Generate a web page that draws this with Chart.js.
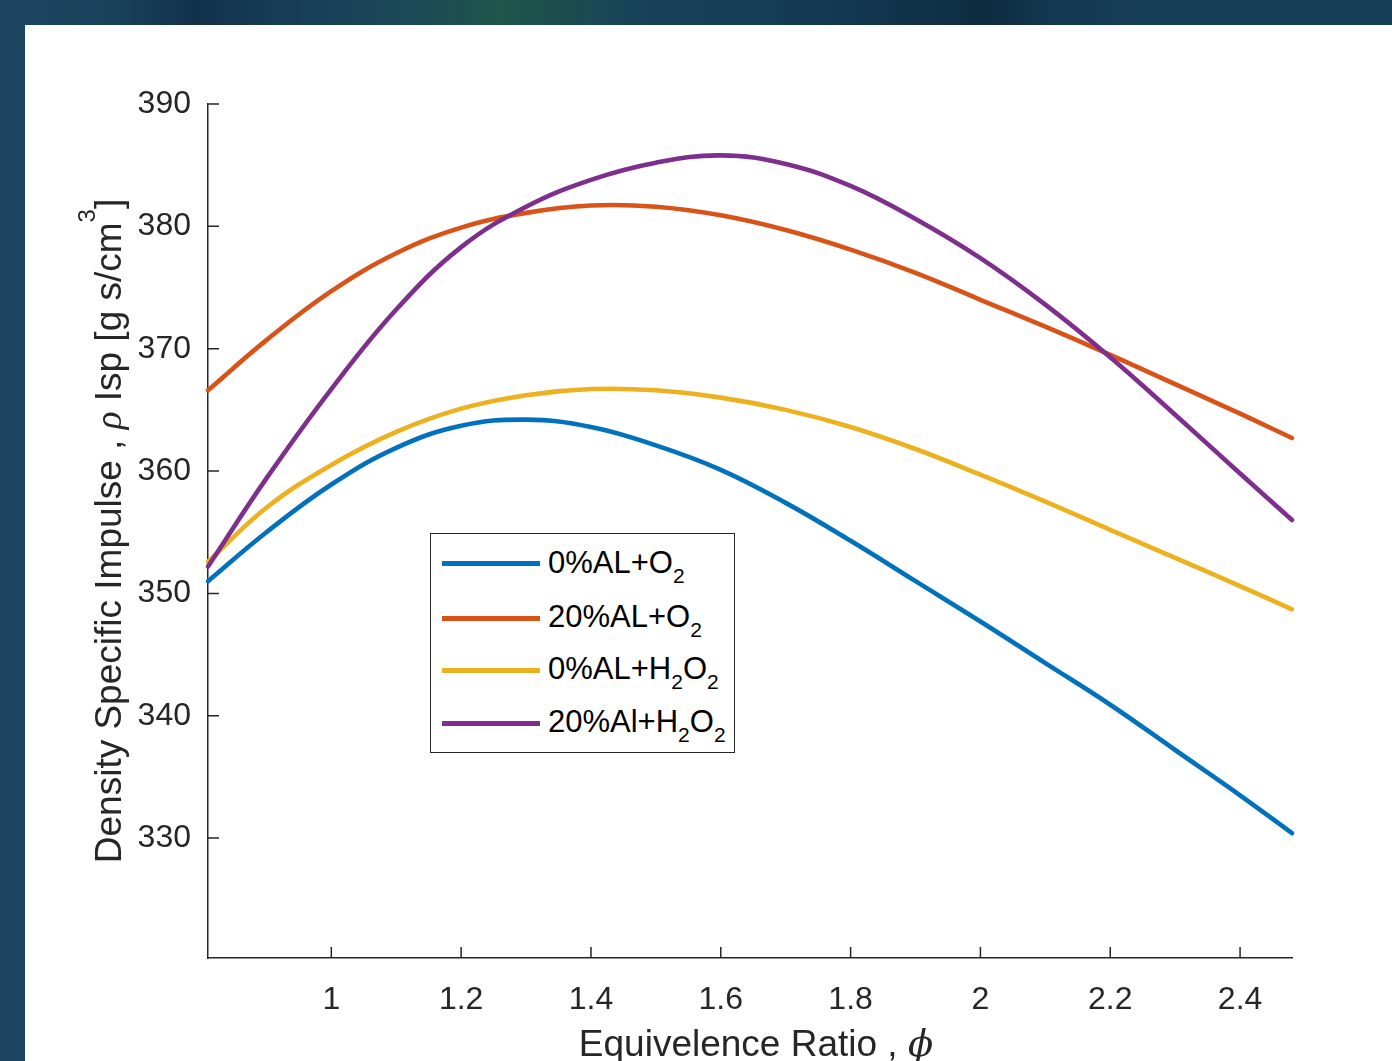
<!DOCTYPE html>
<html><head><meta charset="utf-8">
<script src="https://cdn.jsdelivr.net/npm/chart.js@4.4.0/dist/chart.umd.min.js"></script>
<style>
html,body{margin:0;padding:0;width:1392px;height:1061px;overflow:hidden;}
body{position:relative;font-family:'Liberation Sans',Arial,sans-serif;
background:linear-gradient(90deg,#1c4560 0%,#1a425b 8%,#12324a 14%,#183f58 22%,#1b4a56 30%,#1e5649 36%,#1b4e4e 40%,#174259 46%,#153d55 55%,#11334a 65%,#0d2c3f 71%,#143a52 76%,#163f57 85%,#163f57 100%);}
#panel{position:absolute;left:25px;top:25px;width:1367px;height:1036px;background:#fff;}
#wrap{position:absolute;left:0;top:0;width:1392px;height:1061px;}
#legend{position:absolute;left:430px;top:533px;width:305px;height:220px;box-sizing:border-box;border:1.3px solid #262626;background:#fff;}
.sw{position:absolute;left:11px;width:98px;height:5px;}
.lt{position:absolute;left:117px;font-size:31px;line-height:31px;white-space:nowrap;color:#000;font-family:'Liberation Sans',Arial,sans-serif;}
.lt sub{font-size:21px;vertical-align:-10px;line-height:0;}
</style>
</head><body>
<div id="panel"></div>
<div id="wrap"><canvas id="c"></canvas></div>
<div id="legend"></div>
<script>
// ---- data ----
const xValues   = [0.81, 0.9, 1.0, 1.1, 1.2, 1.3, 1.4, 1.5, 1.6, 1.7, 1.8, 1.9, 2.0, 2.1, 2.2, 2.3, 2.4, 2.48];
const al0O2     = [351.0, 355.0, 358.9, 361.9, 363.7, 364.2, 363.6, 362.1, 360.1, 357.4, 354.3, 351.0, 347.7, 344.3, 340.9, 337.2, 333.5, 330.4];
const al20O2    = [366.6, 370.7, 374.7, 377.8, 379.9, 381.1, 381.7, 381.6, 380.9, 379.7, 378.1, 376.2, 374.0, 371.8, 369.5, 367.1, 364.7, 362.7];
const al0H2O2   = [352.6, 357.0, 360.5, 363.2, 365.1, 366.2, 366.7, 366.6, 366.0, 365.0, 363.6, 361.8, 359.7, 357.5, 355.2, 352.9, 350.6, 348.7];
const al20H2O2  = [352.2, 359.4, 366.7, 373.2, 378.3, 381.6, 383.8, 385.2, 385.8, 385.1, 383.3, 380.6, 377.4, 373.6, 369.3, 364.6, 359.8, 356.0];
const seriesNames = ['0%AL+O₂', '20%AL+O₂', '0%AL+H₂O₂', '20%Al+H₂O₂'];
const legendHtml  = ['0%AL+O<sub>2</sub>', '20%AL+O<sub>2</sub>', '0%AL+H<sub>2</sub>O<sub>2</sub>', '20%Al+H<sub>2</sub>O<sub>2</sub>'];
const seriesColors = ['#0072BD', '#D95319', '#EDB120', '#7E2F8E'];
const xTicks = [1, 1.2, 1.4, 1.6, 1.8, 2, 2.2, 2.4];
const yTicks = [330, 340, 350, 360, 370, 380, 390];
const xRange = [0.81, 2.48];
const yRange = [320.2, 390];

const seriesValues = [al0O2, al20O2, al0H2O2, al20H2O2];
const AX = '#262626';
const SANS = "'Liberation Sans', Arial, sans-serif";

const datasets = seriesValues.map((vals, i) => ({
  label: seriesNames[i],
  data: vals.map((v, k) => ({x: xValues[k], y: v})),
  borderColor: seriesColors[i],
  backgroundColor: seriesColors[i],
  borderWidth: 4.6,
  pointRadius: 0,
  tension: 0.4,
  fill: false,
  clip: false,
  borderCapStyle: 'round',
  borderJoinStyle: 'round',
  order: seriesValues.length - 1 - i
}));

const tickPlugin = {
  id: 'inTicks',
  afterDraw(chart) {
    const {ctx, chartArea: a, scales: {x, y}} = chart;
    ctx.save();
    ctx.strokeStyle = AX; ctx.lineWidth = 1.5;
    ctx.beginPath();
    yTicks.forEach(v => { const p = y.getPixelForValue(v); ctx.moveTo(a.left, p); ctx.lineTo(a.left + 11, p); });
    xTicks.forEach(v => { const p = x.getPixelForValue(v); ctx.moveTo(p, a.bottom); ctx.lineTo(p, a.bottom - 11); });
    ctx.stroke();
    // axis titles
    const segsDraw = (segs) => {
      let w = 0;
      segs.forEach(s => { ctx.font = s.f; s.w = ctx.measureText(s.t).width; w += s.w; });
      let cx = -w / 2;
      segs.forEach(s => { ctx.font = s.f; ctx.fillText(s.t, cx, s.dy || 0); cx += s.w; });
    };
    ctx.fillStyle = AX; ctx.textBaseline = 'alphabetic'; ctx.textAlign = 'left';
    const norm = "37px " + SANS;
    const ital = "italic 37px 'DejaVu Serif', 'Liberation Serif', serif";
    ctx.save();
    ctx.translate((a.left + a.right) / 2 + 6, 1056);
    segsDraw([{t: 'Equivelence Ratio , ', f: norm}, {t: 'ϕ', f: ital}]);
    ctx.restore();
    ctx.save();
    ctx.translate(121, (a.top + a.bottom) / 2);
    ctx.rotate(-Math.PI / 2);
    segsDraw([{t: 'Density Specific Impulse , ', f: norm}, {t: 'ρ', f: "italic 37px 'Liberation Serif', 'DejaVu Serif', serif"},
              {t: ' Isp [g s/cm', f: norm}, {t: '3', f: "24px " + SANS, dy: -26}, {t: ']', f: norm}]);
    ctx.restore();
    ctx.restore();
  }
};

new Chart(document.getElementById('c'), {
  type: 'line',
  data: {datasets},
  options: {
    responsive: true, maintainAspectRatio: false, animation: false,
    layout: {padding: {left: 0, right: 100, top: 104, bottom: 0}},
    plugins: {legend: {display: false}, tooltip: {enabled: false}},
    scales: {
      x: {
        type: 'linear', min: xRange[0], max: xRange[1],
        grid: {display: false},
        border: {display: true, color: AX, width: 1.5},
        ticks: {color: AX, font: {family: SANS, size: 32}, padding: 15, maxRotation: 0, autoSkip: false, callback: v => String(v)},
        afterBuildTicks: s => { s.ticks = xTicks.map(v => ({value: v})); },
        afterFit: s => { s.height = 103; }
      },
      y: {
        type: 'linear', min: yRange[0], max: yRange[1],
        grid: {display: false},
        border: {display: true, color: AX, width: 1.5},
        ticks: {color: AX, font: {family: SANS, size: 32}, padding: 9, autoSkip: false, callback: v => String(v)},
        afterBuildTicks: s => { s.ticks = yTicks.map(v => ({value: v})); },
        afterFit: s => { s.width = 208; }
      }
    }
  },
  plugins: [tickPlugin]
});

// legend (HTML so subscripts are real text)
const rowY = [29.5, 84, 136, 189];
const lg = document.getElementById('legend');
legendHtml.forEach((h, i) => {
  const sw = document.createElement('div');
  sw.className = 'sw'; sw.style.top = (rowY[i] - 2.5) + 'px'; sw.style.background = seriesColors[i];
  lg.appendChild(sw);
  const t = document.createElement('div');
  t.className = 'lt'; t.style.top = (rowY[i] - 17) + 'px'; t.innerHTML = h;
  lg.appendChild(t);
});
</script>
</body></html>
